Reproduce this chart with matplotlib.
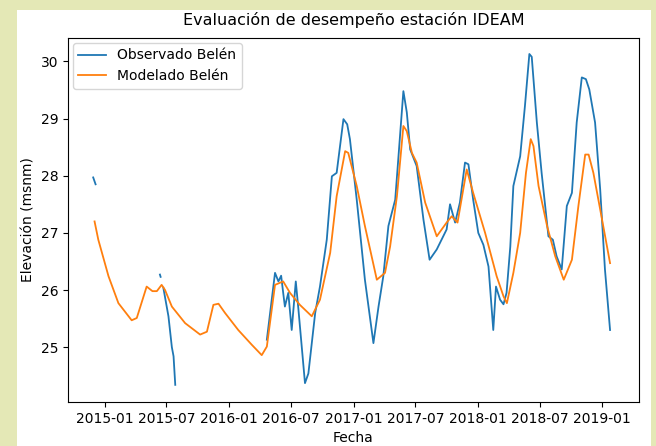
import numpy as np
import pandas as pd
import matplotlib
matplotlib.use("Agg")
import matplotlib.pyplot as plt
import matplotlib.dates as mdates
from matplotlib.patches import Rectangle

nan = np.nan

# Nivel observado (con huecos en la serie)
obs_dates = [
    "2014-11-28", "2014-12-05", "2014-12-06",
    "2015-06-12", "2015-06-14", "2015-06-15",
    "2015-06-22", "2015-07-07", "2015-07-17", "2015-07-22", "2015-07-27", "2015-07-28",
    "2016-04-21", "2016-05-15", "2016-05-25", "2016-06-02", "2016-06-08", "2016-06-13",
    "2016-06-23", "2016-07-03", "2016-07-15", "2016-07-22", "2016-08-11", "2016-08-21",
    "2016-09-10", "2016-09-24", "2016-10-14", "2016-10-29", "2016-11-12", "2016-12-02",
    "2016-12-13", "2016-12-21", "2017-01-10", "2017-02-03", "2017-02-28", "2017-03-15",
    "2017-03-29", "2017-04-13", "2017-05-03", "2017-05-12", "2017-05-27", "2017-06-06",
    "2017-06-16", "2017-07-05", "2017-07-25", "2017-08-12", "2017-09-02", "2017-10-01",
    "2017-10-11", "2017-10-26", "2017-11-09", "2017-11-24", "2017-12-04", "2017-12-18",
    "2018-01-02", "2018-01-17", "2018-02-01", "2018-02-15", "2018-02-23", "2018-03-07",
    "2018-03-17", "2018-03-26", "2018-04-06", "2018-04-15", "2018-05-05", "2018-05-19",
    "2018-06-01", "2018-06-08", "2018-06-23", "2018-07-07", "2018-07-27", "2018-08-09",
    "2018-08-20", "2018-09-04", "2018-09-19", "2018-10-04", "2018-10-18", "2018-11-02",
    "2018-11-14", "2018-11-24", "2018-12-11", "2018-12-26", "2019-01-09", "2019-01-24",
]
obs_values = [
    27.97, 27.85, nan,
    26.27, 26.23, nan,
    26.04, 25.54, 25.00, 24.84, 24.34, nan,
    25.13, 26.30, 26.15, 26.25, 25.95, 25.71,
    25.95, 25.30, 26.15, 25.71, 24.37, 24.54,
    25.60, 26.06, 26.88, 27.99, 28.05, 28.99,
    28.90, 28.64, 27.58, 26.18, 25.07, 25.71,
    26.24, 27.12, 27.58, 28.29, 29.48, 29.11,
    28.46, 28.17, 27.23, 26.53, 26.71, 27.06,
    27.50, 27.18, 27.53, 28.23, 28.20, 27.58,
    27.00, 26.79, 26.41, 25.30, 26.06, 25.83,
    25.75, 25.95, 26.76, 27.82, 28.34, 29.22,
    30.13, 30.08, 28.93, 28.05, 26.94, 26.88,
    26.59, 26.36, 27.47, 27.70, 28.93, 29.72,
    29.69, 29.51, 28.93, 27.76, 26.36, 25.30,
]

# Nivel modelado
mod_dates = [
    "2014-12-02", "2014-12-13", "2015-01-12", "2015-02-10", "2015-03-21", "2015-04-05",
    "2015-05-04", "2015-05-21", "2015-06-03", "2015-06-17", "2015-06-27", "2015-07-17",
    "2015-08-25", "2015-10-08", "2015-10-28", "2015-11-16", "2015-12-01", "2015-12-20",
    "2016-01-28", "2016-03-08", "2016-04-06", "2016-04-21", "2016-05-15", "2016-06-08",
    "2016-06-28", "2016-07-27", "2016-08-31", "2016-09-24", "2016-10-24", "2016-11-12",
    "2016-12-07", "2016-12-16", "2017-01-10", "2017-02-03", "2017-03-10", "2017-04-03",
    "2017-04-18", "2017-05-08", "2017-05-27", "2017-06-06", "2017-06-21", "2017-07-05",
    "2017-07-30", "2017-09-02", "2017-10-01", "2017-10-16", "2017-11-02", "2017-11-29",
    "2017-12-18", "2018-01-22", "2018-02-25", "2018-03-17", "2018-03-27", "2018-04-15",
    "2018-05-05", "2018-05-22", "2018-06-05", "2018-06-13", "2018-06-28", "2018-07-23",
    "2018-08-16", "2018-09-10", "2018-10-04", "2018-10-23", "2018-11-12", "2018-11-22",
    "2018-12-06", "2018-12-26", "2019-01-24",
]
mod_values = [
    27.20, 26.88, 26.24, 25.77, 25.47, 25.51,
    26.06, 25.98, 25.98, 26.09, 26.00, 25.71,
    25.42, 25.22, 25.27, 25.74, 25.76, 25.60,
    25.30, 25.04, 24.86, 25.01, 26.09, 26.15,
    25.95, 25.74, 25.54, 25.83, 26.65, 27.64,
    28.43, 28.40, 27.82, 27.12, 26.18, 26.30,
    26.76, 27.64, 28.87, 28.78, 28.40, 28.23,
    27.53, 26.94, 27.18, 27.29, 27.18, 28.11,
    27.70, 27.00, 26.24, 25.89, 25.77, 26.30,
    27.00, 28.05, 28.64, 28.52, 27.82, 27.12,
    26.59, 26.18, 26.53, 27.47, 28.37, 28.37,
    28.05, 27.41, 26.47,
]

obs = pd.Series(obs_values, index=pd.to_datetime(obs_dates))
mod = pd.Series(mod_values, index=pd.to_datetime(mod_dates))

fig = plt.figure(figsize=(6.56, 4.46), dpi=100, facecolor="#e4e8b6")
# white sheet behind the axes, leaving a margin of the background visible
fig.patches.append(Rectangle((17 / 656, 0), 634 / 656, 436 / 446,
                             transform=fig.transFigure, facecolor="white",
                             edgecolor="none", zorder=-10))
ax = fig.add_axes([68 / 656, 44 / 446, 571 / 656, 364 / 446])
ax.set_zorder(1)

ax.plot(obs.index, obs.values, color="#1f77b4", linewidth=1.3, label="Observado Belén")
ax.plot(mod.index, mod.values, color="#ff7f0e", linewidth=1.3, label="Modelado Belén")

ax.set_xlim(pd.Timestamp("2014-09-15"), pd.Timestamp("2019-04-19"))
ax.set_ylim(24.04, 30.41)
ax.xaxis.set_major_locator(mdates.MonthLocator(bymonth=[1, 7]))
ax.xaxis.set_major_formatter(mdates.DateFormatter("%Y-%m"))
ax.set_yticks([25, 26, 27, 28, 29, 30])

ax.set_title("Evaluación de desempeño estación IDEAM", fontsize=11.5, pad=9)
ax.set_xlabel("Fecha")
ax.set_ylabel("Elevación (msnm)")
ax.legend(loc="upper left", borderaxespad=0.35)

fig.savefig("out.png", dpi=100, facecolor=fig.get_facecolor())
